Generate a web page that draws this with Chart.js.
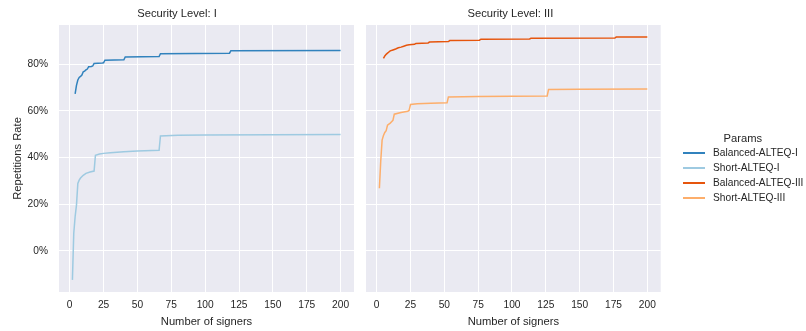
<!DOCTYPE html>
<html>
<head>
<meta charset="utf-8">
<script src="https://cdn.jsdelivr.net/npm/chart.js@4.4.1/dist/chart.umd.min.js"></script>
<style>
  html,body{margin:0;padding:0;background:#fff;}
  body{width:806px;height:331px;overflow:hidden;position:relative;font-family:"Liberation Sans",Arial,sans-serif;color:#262626;}
  #w1{position:absolute;left:0;top:0;width:360px;height:331px;}
  #w2{position:absolute;left:360px;top:0;width:310px;height:331px;}
  #legend{position:absolute;left:0;top:0;width:806px;height:331px;pointer-events:none;}
  .lt{position:absolute;font-size:11.2px;line-height:13px;white-space:nowrap;}
  .li{position:absolute;font-size:10.2px;line-height:12px;white-space:nowrap;}
  .ll{position:absolute;height:2px;width:22px;}
</style>
</head>
<body>
<div id="w1"><canvas id="c1" width="360" height="331"></canvas></div>
<div id="w2"><canvas id="c2" width="310" height="331"></canvas></div>
<div id="legend"></div>
<script>
// ---- data ----
const seriesNames = ["Balanced-ALTEQ-I", "Short-ALTEQ-I", "Balanced-ALTEQ-III", "Short-ALTEQ-III"];
const panelTitles = ["Security Level: I", "Security Level: III"];
const legendTitle = "Params";
const xTitle = "Number of signers";
const yTitle = "Repetitions Rate";
const xTicks = [0, 25, 50, 75, 100, 125, 150, 175, 200];
const yTicks = [0, 20, 40, 60, 80];
const yTickLabels = ["0%", "20%", "40%", "60%", "80%"];

const signersBalancedI = [4, 5, 6, 7, 8, 9, 10, 11, 12, 13, 14, 16, 17, 18, 24, 25, 26, 40, 41, 66, 67, 118, 119, 200];
const rateBalancedI    = [67.3, 71.0, 73.3, 74.4, 74.8, 75.4, 76.8, 77.1, 77.6, 78.0, 79.0, 79.1, 79.3, 80.4, 80.6, 80.7, 81.8, 82.0, 83.2, 83.4, 84.6, 84.8, 85.9, 86.0];

const signersShortI = [2, 3, 4, 5, 6, 7, 8, 10, 12, 15, 18, 19, 22, 25, 30, 40, 50, 66, 67, 80, 100, 150, 200];
const rateShortI    = [-12.5, 7.5, 14.6, 19.6, 28.9, 30.3, 31.2, 32.4, 33.2, 33.8, 34.2, 41.0, 41.5, 41.8, 42.1, 42.5, 42.8, 43.1, 49.3, 49.6, 49.7, 49.8, 49.9];

const signersBalancedIII = [5, 6, 7, 8, 9, 10, 12, 14, 16, 18, 20, 22, 24, 28, 29, 38, 39, 53, 54, 76, 77, 113, 114, 176, 177, 200];
const rateBalancedIII    = [82.6, 83.6, 84.3, 84.8, 85.3, 85.8, 86.2, 86.6, 87.1, 87.4, 87.8, 88.2, 88.4, 88.6, 89.0, 89.2, 89.6, 89.8, 90.2, 90.4, 90.8, 90.9, 91.2, 91.3, 91.7, 91.7];

const signersShortIII = [2, 3, 4, 5, 6, 7, 8, 10, 11, 12, 13, 18, 23, 24, 25, 30, 40, 52, 53, 75, 100, 126, 127, 150, 200];
const rateShortIII    = [26.8, 38.5, 47.5, 49.5, 50.8, 51.5, 53.9, 54.8, 55.4, 56.0, 58.6, 59.3, 59.9, 60.3, 62.8, 63.1, 63.3, 63.5, 66.0, 66.2, 66.3, 66.4, 69.2, 69.3, 69.4];

const colors = ["#3182bd", "#9ecae1", "#e6550d", "#fdae6b"];

// ---- chart setup ----
const FONT = "'Liberation Sans', Arial, sans-serif";
const TXT = "#262626";
Chart.defaults.font.family = FONT;
Chart.defaults.color = TXT;

function ds(label, xs, ys, color) {
  return {
    label: label,
    data: xs.map((x, i) => ({x: x, y: ys[i]})),
    borderColor: color,
    backgroundColor: color,
    borderWidth: 1.5,
    pointRadius: 0,
    tension: 0,
    fill: false
  };
}

function panel(canvasId, title, datasets, isLeft) {
  return new Chart(document.getElementById(canvasId), {
    type: 'line',
    data: {datasets: datasets},
    options: {
      responsive: false,
      animation: false,
      devicePixelRatio: 1,
      layout: {padding: {left: 0, right: isLeft ? 6 : 9.3, top: 0, bottom: 0}},
      plugins: {
        legend: {display: false},
        tooltip: {enabled: false},
        title: {
          display: true, text: title, color: TXT,
          font: {size: 11.2, weight: 'normal', lineHeight: 1.2},
          padding: {top: 7.5, bottom: 4.06}
        }
      },
      scales: {
        x: {
          type: 'linear', min: -7.9, max: 209.9,
          afterBuildTicks: s => { s.ticks = xTicks.map(v => ({value: v})); },
          afterFit: s => { s.height = 39; },
          grid: {color: '#ffffff', lineWidth: 1, drawTicks: false},
          border: {display: false},
          ticks: {color: TXT, font: {size: 10.2}, padding: 7.5, maxRotation: 0, autoSkip: false,
                  callback: (v) => String(v)},
          title: {display: true, text: xTitle, color: TXT, font: {size: 11.2, lineHeight: 1.2},
                  padding: {top: 0, bottom: 2.8}}
        },
        y: {
          type: 'linear', min: -17.7, max: 96.9,
          afterBuildTicks: s => { s.ticks = yTicks.map(v => ({value: v})); },
          afterFit: s => { s.width = isLeft ? 59 : 6; },
          grid: {color: '#ffffff', lineWidth: 1, drawTicks: false},
          border: {display: false},
          ticks: {display: isLeft, color: TXT, font: {size: 10.2}, padding: 11,
                  callback: (v) => yTickLabels[yTicks.indexOf(v)]},
          title: {display: isLeft, text: yTitle, color: TXT, font: {size: 11.2, lineHeight: 1.2},
                  padding: {top: 10.8, bottom: 0}}
        }
      }
    },
    plugins: [{
      id: 'bg',
      beforeDraw(chart) {
        const {ctx, chartArea: a} = chart;
        ctx.save();
        ctx.fillStyle = '#eaeaf2';
        ctx.fillRect(a.left, a.top, a.right - a.left, a.bottom - a.top);
        ctx.restore();
      }
    }]
  });
}

panel('c1', panelTitles[0], [
  ds(seriesNames[0], signersBalancedI, rateBalancedI, colors[0]),
  ds(seriesNames[1], signersShortI, rateShortI, colors[1])
], true);

panel('c2', panelTitles[1], [
  ds(seriesNames[2], signersBalancedIII, rateBalancedIII, colors[2]),
  ds(seriesNames[3], signersShortIII, rateShortIII, colors[3])
], false);

// ---- legend ----
const lg = document.getElementById('legend');
const t = document.createElement('div');
t.className = 'lt';
t.textContent = legendTitle;
lg.appendChild(t);
t.style.top = (138 - 6.5) + 'px';
t.style.left = (743 - t.offsetWidth / 2) + 'px';
seriesNames.forEach((name, i) => {
  const y = 153 + i * 15;
  const l = document.createElement('div');
  l.className = 'll';
  l.style.background = colors[i];
  l.style.left = '683px';
  l.style.top = (y - 1) + 'px';
  lg.appendChild(l);
  const s = document.createElement('div');
  s.className = 'li';
  s.textContent = name;
  s.style.left = '713px';
  s.style.top = (y - 6) + 'px';
  lg.appendChild(s);
});
</script>
</body>
</html>
